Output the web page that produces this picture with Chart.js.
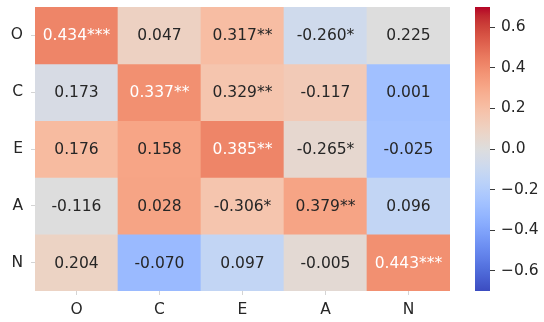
<!DOCTYPE html>
<html>
<head>
<meta charset="utf-8">
<script src="https://cdn.jsdelivr.net/npm/chart.js@4/dist/chart.umd.min.js"></script>
<style>
  html, body { margin: 0; padding: 0; background: #ffffff; }
  #wrap { position: relative; width: 544px; height: 322px; }
  #heat { position: absolute; left: 0; top: 0; }
  #bar { position: absolute; left: 470px; top: 0; }
</style>
</head>
<body>
<div id="wrap">
  <canvas id="heat" width="470" height="322"></canvas>
  <canvas id="bar" width="74" height="322"></canvas>
</div>
<script>
// Trait labels for rows and columns
const rowLabels = ['O', 'C', 'E', 'A', 'N'];
const colLabels = ['O', 'C', 'E', 'A', 'N'];

// Printed coefficients, one array per row
const coefO = [0.434, 0.047, 0.317, -0.260, 0.225];
const coefC = [0.173, 0.337, 0.329, -0.117, 0.001];
const coefE = [0.176, 0.158, 0.385, -0.265, -0.025];
const coefA = [-0.116, 0.028, -0.306, 0.379, 0.096];
const coefN = [0.204, -0.070, 0.097, -0.005, 0.443];

// Significance stars printed after each coefficient
const starsO = ['***', '', '**', '*', ''];
const starsC = ['', '**', '**', '', ''];
const starsE = ['', '', '**', '*', ''];
const starsA = ['', '', '*', '**', ''];
const starsN = ['', '', '', '', '***'];

// Values that set each cell's shade
const shadeO = [0.42, 0.098, 0.21, -0.074, 0.00];
const shadeC = [-0.035, 0.385, 0.17, 0.14, -0.27];
const shadeE = [0.22, 0.31, 0.42, 0.05, -0.26];
const shadeA = [0.00, 0.315, 0.17, 0.315, -0.13];
const shadeN = [0.09, -0.30, -0.13, 0.035, 0.385];

// Colour scale limits and colorbar ticks
const vmin = -0.7, vmax = 0.7;
const colorbarTicks = [-0.6, -0.4, -0.2, 0.0, 0.2, 0.4, 0.6];

const coefRows = [coefO, coefC, coefE, coefA, coefN];
const starRows = [starsO, starsC, starsE, starsA, starsN];
const shadeRows = [shadeO, shadeC, shadeE, shadeA, shadeN];

// Diverging cool-warm palette (33 stops, 0..1)
const coolwarm = [
  [59,76,192],[68,90,204],[77,104,215],[87,117,225],[98,130,234],[108,142,241],
  [119,154,247],[130,165,251],[141,176,254],[152,185,255],[163,194,255],[174,201,253],
  [184,208,249],[194,213,244],[204,217,238],[213,219,230],[221,221,221],[229,216,209],
  [236,211,197],[241,204,185],[245,196,173],[247,187,160],[247,177,148],[247,166,135],
  [244,154,123],[241,141,111],[236,127,99],[229,112,88],[222,96,77],[213,80,66],
  [203,62,56],[192,40,47],[180,4,38]
];
function paletteRGB(t) {
  t = Math.min(1, Math.max(0, t));
  const p = t * (coolwarm.length - 1);
  const i = Math.min(coolwarm.length - 2, Math.floor(p));
  const f = p - i;
  const a = coolwarm[i], b = coolwarm[i + 1];
  return [0, 1, 2].map(k => a[k] + (b[k] - a[k]) * f);
}
function rgbStr(c) { return 'rgb(' + c.map(v => Math.round(v)).join(',') + ')'; }
function shadeRGB(v) { return paletteRGB((v - vmin) / (vmax - vmin)); }
function textColour(c) {
  const lin = c.map(v => { v /= 255; return v <= 0.03928 ? v / 12.92 : Math.pow((v + 0.055) / 1.055, 2.4); });
  const lum = 0.2126 * lin[0] + 0.7152 * lin[1] + 0.0722 * lin[2];
  return lum > 0.408 ? '#262626' : '#ffffff';
}

const FONT = { family: 'DejaVu Sans', size: 15.5 };
const INK = '#262626';
Chart.defaults.font.family = FONT.family;
Chart.defaults.font.size = FONT.size;
Chart.defaults.color = INK;

// Axes reserve no extra room for half-label overhang
function noOverhang(s) {
  s.paddingTop = 0; s.paddingBottom = 0; s.paddingLeft = 0; s.paddingRight = 0;
}

// One floating-bar dataset per row; each bar spans a row band on the y scale
const datasets = rowLabels.map((r, i) => ({
  label: r,
  data: colLabels.map(() => [i - 0.5, i + 0.5]),
  backgroundColor: shadeRows[i].map(v => rgbStr(shadeRGB(v))),
  borderWidth: 0,
  categoryPercentage: 1.0,
  barPercentage: 1.0,
  grouped: false
}));

const cellText = {
  id: 'cellText',
  afterDatasetsDraw(chart) {
    const { ctx, scales } = chart;
    ctx.save();
    ctx.font = FONT.size + 'px "' + FONT.family + '"';
    ctx.textAlign = 'center';
    ctx.textBaseline = 'middle';
    coefRows.forEach((row, i) => {
      row.forEach((v, j) => {
        const x = scales.x.getPixelForValue(j);
        const y = scales.y.getPixelForValue(i);
        ctx.fillStyle = textColour(shadeRGB(shadeRows[i][j]));
        ctx.fillText(v.toFixed(3) + starRows[i][j], x, y + 1);
      });
    });
    ctx.restore();
  }
};

new Chart(document.getElementById('heat'), {
  type: 'bar',
  data: { labels: colLabels, datasets },
  options: {
    responsive: false,
    animation: false,
    devicePixelRatio: 1,
    layout: { padding: { top: 7, right: 20, left: 0, bottom: 0 } },
    plugins: { legend: { display: false }, tooltip: { enabled: false } },
    scales: {
      x: {
        type: 'category',
        offset: true,
        grid: { offset: false, drawOnChartArea: false, drawTicks: true, tickLength: 4, color: '#d4d4d4' },
        border: { display: false },
        ticks: { padding: 6, color: INK, font: FONT, maxRotation: 0 },
        afterFit(s) { s.height = 31; noOverhang(s); }
      },
      y: {
        type: 'linear',
        min: -0.5, max: 4.5,
        reverse: true,
        grid: { drawOnChartArea: false, drawTicks: true, tickLength: 4, color: '#d4d4d4' },
        border: { display: false },
        afterBuildTicks(s) { s.ticks = rowLabels.map((_, i) => ({ value: i })); },
        ticks: { padding: 8, color: INK, font: FONT, callback: v => rowLabels[v] },
        afterFit(s) { s.width = 35; noOverhang(s); }
      }
    }
  },
  plugins: [cellText]
});

// Colorbar: a single floating bar across the colour range, filled with the palette
new Chart(document.getElementById('bar'), {
  type: 'bar',
  data: {
    labels: [''],
    datasets: [{
      data: [[vmin, vmax]],
      borderWidth: 0,
      categoryPercentage: 1.0,
      barPercentage: 1.0,
      backgroundColor(c) {
        const chart = c.chart;
        if (!chart.chartArea) return 'rgba(0,0,0,0)';
        const ys = chart.scales.y;
        const y0 = ys.getPixelForValue(vmin), y1 = ys.getPixelForValue(vmax);
        const g = chart.ctx.createLinearGradient(0, y0, 0, y1);
        const n = 64;
        for (let k = 0; k <= n; k++) g.addColorStop(k / n, rgbStr(paletteRGB(k / n)));
        return g;
      }
    }]
  },
  options: {
    responsive: false,
    animation: false,
    devicePixelRatio: 1,
    layout: { padding: { top: 7, left: 5, right: 0, bottom: 31 } },
    plugins: { legend: { display: false }, tooltip: { enabled: false } },
    scales: {
      x: { display: false },
      y: {
        type: 'linear',
        position: 'right',
        min: vmin, max: vmax,
        grid: { drawOnChartArea: false, drawTicks: true, tickLength: 5, color: '#3a3a3a' },
        border: { display: false },
        afterBuildTicks(s) { s.ticks = colorbarTicks.map(v => ({ value: v })); },
        ticks: {
          padding: 6, color: INK, font: FONT,
          callback: v => (v < 0 ? '\u2212' : '') + Math.abs(v).toFixed(1)
        },
        afterFit(s) { s.width = 54; noOverhang(s); }
      }
    }
  }
});
</script>
</body>
</html>
